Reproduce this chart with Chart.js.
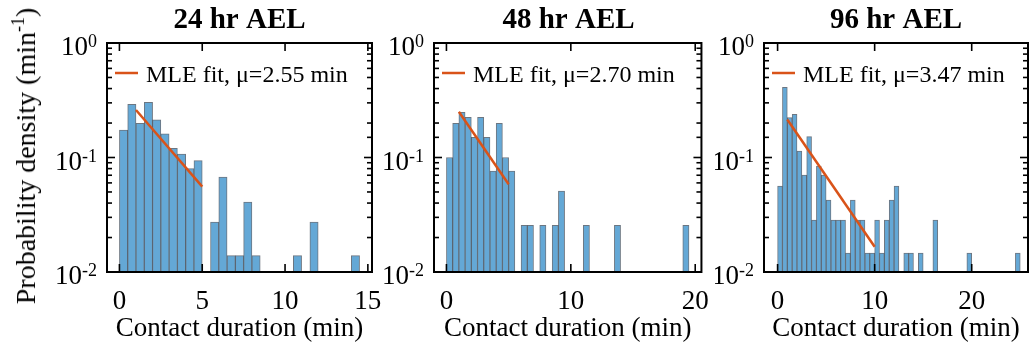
<!DOCTYPE html>
<html>
<head>
<meta charset="utf-8">
<script src="https://cdn.jsdelivr.net/npm/chart.js@4.4.1/dist/chart.umd.min.js"></script>
<style>
  html, body { margin: 0; padding: 0; background: #fff; }
  #wrap { position: relative; width: 1030px; height: 345px; overflow: hidden; }
  canvas { position: absolute; top: 0; }
  #ylab {
    position: absolute; left: 26px; top: 156px;
    transform: translate(-50%, -50%) rotate(-90deg);
    font: 28px "Liberation Serif", "Times New Roman", serif;
    white-space: nowrap; color: #000;
  }
  #ylab span { font-size: 18px; position: relative; top: -11px; }
</style>
</head>
<body>
<div id="wrap">
  <canvas id="c24" width="395" height="345" style="left:0px"></canvas>
  <canvas id="c48" width="345" height="345" style="left:370px"></canvas>
  <canvas id="c96" width="315" height="345" style="left:715px"></canvas>
  <div id="ylab">Probability density (min<span>-1</span>)</div>
</div>
<script>
// Histogram data (bin width 0.5 min, bin centres in min)
const titles = ['24 hr AEL', '48 hr AEL', '96 hr AEL'];
const fitLabels = ['MLE fit, \u03bc=2.55 min', 'MLE fit, \u03bc=2.70 min', 'MLE fit, \u03bc=3.47 min'];

const centers24 = [0.25, 0.75, 1.25, 1.75, 2.25, 2.75, 3.25, 3.75, 4.25, 4.75, 5.75, 6.25, 6.75, 7.25, 7.75, 8.25, 10.75, 11.75, 14.25];
const dens24 = [0.174, 0.291, 0.199, 0.303, 0.213, 0.161, 0.120, 0.107, 0.080, 0.094, 0.0273, 0.0676, 0.0139, 0.0139, 0.0408, 0.0139, 0.0139, 0.0273, 0.0139];

const centers48 = [0.25, 0.75, 1.25, 1.75, 2.25, 2.75, 3.25, 3.75, 4.25, 4.75, 5.25, 6.25, 6.75, 7.75, 8.75, 9.25, 11.25, 13.75, 19.25];
const dens48 = [0.100, 0.199, 0.248, 0.224, 0.150, 0.224, 0.150, 0.076, 0.199, 0.100, 0.076, 0.0255, 0.0255, 0.0255, 0.0255, 0.051, 0.0255, 0.0255, 0.0255];

const centers96 = [0.25, 0.75, 1.25, 1.75, 2.25, 2.75, 3.25, 3.75, 4.25, 4.75, 5.25, 5.75, 6.25, 6.75, 7.25, 7.75, 8.25, 8.75, 9.25, 9.75,
                   10.25, 10.75, 11.25, 11.75, 12.25, 13.25, 13.75, 14.75, 16.25, 19.75, 24.75];
const dens96 = [0.0564, 0.410, 0.223, 0.238, 0.114, 0.0703, 0.152, 0.0284, 0.0843, 0.0703, 0.0425, 0.0284, 0.0284, 0.0284, 0.0146, 0.0425,
                0.0284, 0.0284, 0.0146, 0.0146, 0.0284, 0.0146, 0.0284, 0.0425, 0.0564, 0.0146, 0.0146, 0.0146, 0.0284, 0.0146, 0.0146];

// MLE fit segments (end points)
const fitX24 = [1.0, 5.0], fitY24 = [0.260, 0.0556];
const fitX48 = [1.0, 5.0], fitY48 = [0.251, 0.0583];
const fitX96 = [1.0, 10.0], fitY96 = [0.215, 0.0166];

// x axis ticks / ranges
const xTicks24 = [0, 5, 10, 15];
const xTicks48 = [0, 10, 20];
const xTicks96 = [0, 10, 20];
const xRange24 = [-0.75, 15.25];
const xRange48 = [-1, 20.5];
const xRange96 = [-1.4, 25.8];

const FONT = '"Liberation Serif", "Times New Roman", serif';
const BAR_FILL = 'rgb(100,168,214)';
const BAR_EDGE = 'rgba(45,60,75,0.7)';
const FIT_COLOR = '#D95319';

function seg(ctx, x0, y0, x1, y1) {
    ctx.beginPath();
    ctx.moveTo(x0, y0);
    ctx.lineTo(x1, y1);
    ctx.stroke();
}

// frame, inward ticks on all four sides, y labels with superscripts, legend
const axesBox = {
    id: 'axesBox',
    afterDraw(chart) {
        const { ctx, chartArea: a, scales: { x, y } } = chart;
        ctx.save();
        ctx.strokeStyle = '#000';
        ctx.lineWidth = 1.6;
        x.ticks.forEach(t => {
            const px = x.getPixelForValue(t.value);
            seg(ctx, px, a.bottom, px, a.bottom - 8);
            seg(ctx, px, a.top, px, a.top + 8);
        });
        const isMajor = v => Math.abs(Math.log10(v) - Math.round(Math.log10(v))) < 1e-6;
        y.ticks.forEach(t => {
            const py = y.getPixelForValue(t.value);
            const len = isMajor(t.value) ? 8 : 5;
            seg(ctx, a.left, py, a.left + len, py);
            seg(ctx, a.right, py, a.right - len, py);
        });
        ctx.lineWidth = 2;
        ctx.strokeRect(a.left, a.top, a.right - a.left, a.bottom - a.top);

        // y tick labels 10^n
        ctx.fillStyle = '#000';
        ctx.textBaseline = 'alphabetic';
        y.ticks.filter(t => isMajor(t.value)).forEach(t => {
            const py = y.getPixelForValue(t.value);
            const exp = String(Math.round(Math.log10(t.value)));
            ctx.font = '18px ' + FONT;
            const ew = ctx.measureText(exp).width;
            const xr = a.left - 10;
            ctx.textAlign = 'right';
            ctx.fillText(exp, xr, py + 4);
            ctx.font = '27px ' + FONT;
            ctx.fillText('10', xr - ew, py + 12);
        });

        // legend
        const fit = chart.data.datasets[0];
        ctx.strokeStyle = fit.borderColor;
        ctx.lineWidth = 2.5;
        seg(ctx, a.left + 8, a.top + 30, a.left + 31, a.top + 30);
        ctx.font = '24px ' + FONT;
        ctx.textAlign = 'left';
        ctx.fillText(fit.label, a.left + 39, a.top + 39);
        ctx.restore();
    }
};

function makePanel(id, idx, centers, dens, fitX, fitY, ticks, range, pad) {
    const ctx = document.getElementById(id).getContext('2d');
    return new Chart(ctx, {
        type: 'bar',
        data: {
            datasets: [{
                type: 'line',
                label: fitLabels[idx],
                data: fitX.map((v, i) => ({ x: v, y: fitY[i] })),
                borderColor: FIT_COLOR,
                borderWidth: 2.5,
                pointRadius: 0,
                fill: false,
                tension: 0,
            }, {
                type: 'bar',
                label: 'histogram',
                data: centers.map((v, i) => ({ x: v, y: dens[i] })),
                backgroundColor: BAR_FILL,
                borderColor: BAR_EDGE,
                borderWidth: 1,
                barPercentage: 1,
                categoryPercentage: 1,
            }]
        },
        options: {
            responsive: false,
            animation: false,
            layout: { padding: { left: pad[0], right: pad[1], top: 0, bottom: 0 } },
            plugins: {
                legend: { display: false },
                tooltip: { enabled: false },
                title: {
                    display: true,
                    text: titles[idx],
                    color: '#000',
                    font: { family: FONT, size: 29, weight: 'bold', lineHeight: 1.2 },
                    padding: { top: 3, bottom: 43 - 3 - 29 * 1.2 },
                },
            },
            scales: {
                x: {
                    type: 'linear',
                    position: 'bottom',
                    min: range[0],
                    max: range[1],
                    offset: false,
                    afterBuildTicks: s => { s.ticks = ticks.map(v => ({ value: v })); },
                    afterFit: s => { s.height = 73; },
                    grid: { display: false },
                    border: { display: false },
                    ticks: { color: '#000', font: { family: FONT, size: 27 }, padding: 6, maxRotation: 0, autoSkip: false },
                    title: {
                        display: true,
                        text: 'Contact duration (min)',
                        color: '#000',
                        font: { family: FONT, size: 27 },
                        padding: { top: 0, bottom: 0 },
                    },
                },
                y: {
                    type: 'logarithmic',
                    min: 0.01,
                    max: 1,
                    display: false,
                    ticks: { autoSkip: false },
                }
            }
        },
        plugins: [axesBox]
    });
}

makePanel('c24', 0, centers24, dens24, fitX24, fitY24, xTicks24, xRange24, [107, 23]);
makePanel('c48', 1, centers48, dens48, fitX48, fitY48, xTicks48, xRange48, [64, 12]);
makePanel('c96', 2, centers96, dens96, fitX96, fitY96, xTicks96, xRange96, [49, 2]);
</script>
</body>
</html>
